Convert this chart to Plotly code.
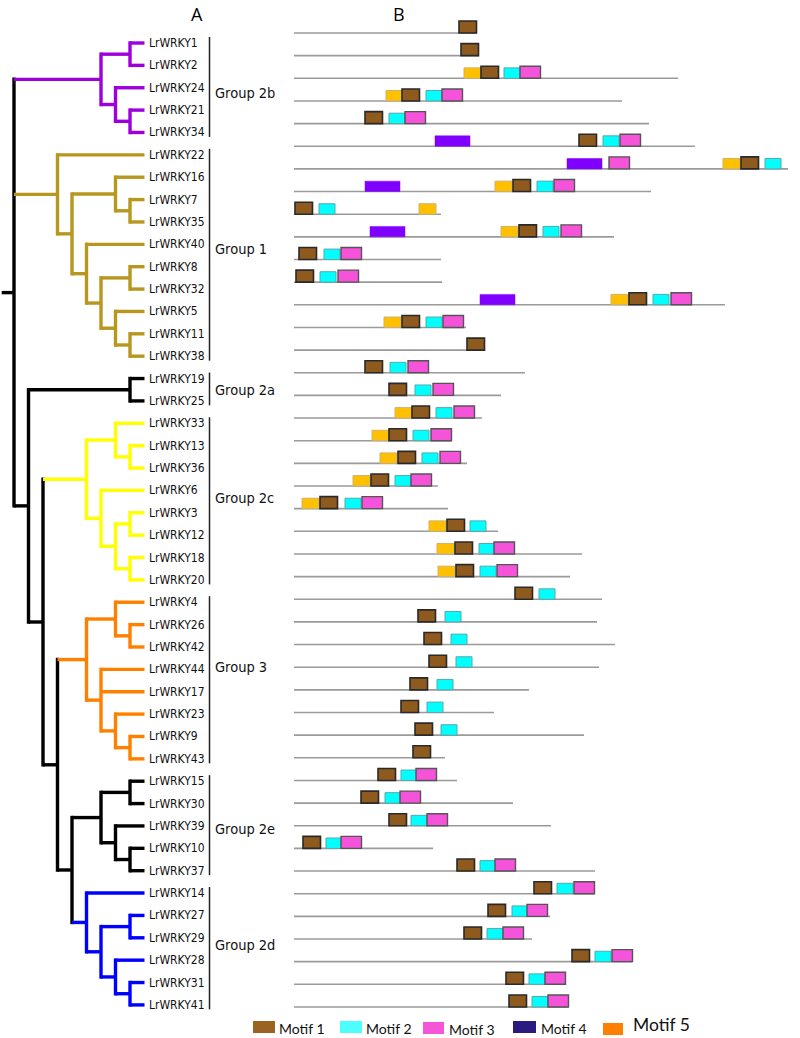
import plotly.graph_objects as go

# ------------------------------------------------------------------ data
# tree topology (leaf numbers are LrWRKY ids)
CLADE_2B = "((1,2),(24,(21,34)))"
CLADE_1 = "(22,((16,(7,35)),(40,((8,32),(5,(11,38))))))"
CLADE_2A = "(19,25)"
CLADE_2C = "((33,(13,36)),(6,((3,12),(18,20))))"
CLADE_3 = "((4,(26,42)),(44,17,(23,(9,43))))"
CLADE_2E = "((15,30),(39,(10,37)))"
CLADE_2D = "(14,((27,29),(28,(31,41))))"
TREE = f"({CLADE_2B},{CLADE_1},({CLADE_2A},({CLADE_2C},({CLADE_3},({CLADE_2E},{CLADE_2D})))))"

GROUP_NAMES = ["Group 2b", "Group 1", "Group 2a", "Group 2c", "Group 3", "Group 2e", "Group 2d"]
GROUP_CLADES = [CLADE_2B, CLADE_1, CLADE_2A, CLADE_2C, CLADE_3, CLADE_2E, CLADE_2D]

# motif panel, in tree order (protein length, aa)
PROTEIN_LENGTH = [366, 370, 768, 656, 710, 802, 988, 714, 294, 640, 294, 296, 862, 344, 382,
                  462, 414, 376, 314, 346, 288, 308, 408, 576, 552,
                  616, 606, 642, 610, 470, 400, 580, 302,
                  326, 438, 514, 278, 602,
                  600, 512, 476, 676, 542, 548]
# (motif number, start position aa)
MOTIF_SITES = [
    [(1, 330)],
    [(1, 334)],
    [(5, 340), (1, 374), (2, 420), (3, 452)],
    [(5, 184), (1, 216), (2, 264), (3, 296)],
    [(1, 142), (2, 190), (3, 222)],
    [(4, 282), (1, 570), (2, 618), (3, 652)],
    [(4, 546), (3, 630), (5, 858), (1, 894), (2, 942)],
    [(4, 142), (5, 402), (1, 438), (2, 486), (3, 520)],
    [(1, 2), (2, 50), (5, 250)],
    [(4, 152), (5, 414), (1, 450), (2, 498), (3, 534)],
    [(1, 10), (2, 60), (3, 94)],
    [(1, 4), (2, 52), (3, 88)],
    [(4, 372), (5, 634), (1, 670), (2, 718), (3, 754)],
    [(5, 180), (1, 216), (2, 264), (3, 298)],
    [(1, 346)],
    [(1, 142), (2, 192), (3, 228)],
    [(1, 190), (2, 242), (3, 278)],
    [(5, 202), (1, 236), (2, 284), (3, 320)],
    [(5, 156), (1, 190), (2, 238), (3, 274)],
    [(5, 172), (1, 208), (2, 256), (3, 292)],
    [(5, 118), (1, 154), (2, 202), (3, 234)],
    [(5, 16), (1, 52), (2, 102), (3, 136)],
    [(5, 270), (1, 306), (2, 352)],
    [(5, 286), (1, 322), (2, 370), (3, 400)],
    [(5, 288), (1, 324), (2, 372), (3, 406)],
    [(1, 442), (2, 490)],
    [(1, 248), (2, 302)],
    [(1, 260), (2, 314)],
    [(1, 270), (2, 324)],
    [(1, 232), (2, 286)],
    [(1, 214), (2, 266)],
    [(1, 242), (2, 294)],
    [(1, 238)],
    [(1, 168), (2, 214), (3, 244)],
    [(1, 134), (2, 182), (3, 212)],
    [(1, 190), (2, 234), (3, 266)],
    [(1, 18), (2, 64), (3, 94)],
    [(1, 326), (2, 372), (3, 402)],
    [(1, 480), (2, 526), (3, 560)],
    [(1, 388), (2, 436), (3, 466)],
    [(1, 340), (2, 386), (3, 418)],
    [(1, 556), (2, 602), (3, 636)],
    [(1, 424), (2, 470), (3, 502)],
    [(1, 430), (2, 476), (3, 508)],
]
MOTIF_LENGTH = {1: 35, 2: 32, 3: 41, 4: 70, 5: 34}
LEGEND_LABELS = ["Motif 1", "Motif 2", "Motif 3", "Motif 4", "Motif 5"]

# ------------------------------------------------------------------ styles
GROUP_COLORS = ["#9d00dc", "#b8971f", "#000000", "#ffff00", "#ff8000", "#000000", "#0000ff"]
MOTIF_FILL = {1: "#8f5a1e", 2: "#00ffff", 3: "#f553da", 4: "#8000ff", 5: "#ffc000"}
MOTIF_EDGE = {1: ("#2a2a2a", 1.6), 2: ("#55aaaa", 1.0), 3: ("#555555", 1.4),
              4: ("#8000ff", 0.5), 5: ("#d0b070", 1.0)}
MOTIF_H = {1: 0.53, 2: 0.46, 3: 0.53, 4: 0.46, 5: 0.46}
LEGEND_FILL = ["#9a6322", "#4dffff", "#f555d8", "#2b1a80", "#ff8000"]
NARROW = "Liberation Sans Narrow, Arial Narrow, DejaVu Sans Condensed, sans-serif"
LEG_FONT = "Lato, Open Sans, sans-serif"

W, H = 800, 1038
# pixel geometry of the axes
TX0, TXS = 14.0, 14.5      # tree depth -> px
TY0, TYS = 43.0, 22.37     # leaf index -> px
MX0, MXS = 294.0, 0.5      # aa -> px
MY0, MYS = 33.0, 22.65     # motif row -> px


# ------------------------------------------------------------------ tree parsing/layout
def parse(s):
    pos = 0

    def node():
        nonlocal pos
        if s[pos] == "(":
            pos += 1
            kids = [node()]
            while s[pos] == ",":
                pos += 1
                kids.append(node())
            pos += 1
            return {"children": kids}
        j = pos
        while s[pos] not in ",()":
            pos += 1
        return {"name": "LrWRKY" + s[j:pos]}

    return node()


def leaf_names(s):
    out, cur = [], ""
    for ch in s:
        if ch.isdigit():
            cur += ch
        else:
            if cur:
                out.append("LrWRKY" + cur)
            cur = ""
    return out


root = parse(TREE)
order = []


def layout(n):
    if "name" in n:
        n["y"] = len(order)
        order.append(n["name"])
        n["h"] = 0
        n["leaves"] = [n["name"]]
        return
    for c in n["children"]:
        layout(c)
    n["y"] = (n["children"][0]["y"] + n["children"][-1]["y"]) / 2
    n["h"] = 1 + max(c["h"] for c in n["children"])
    n["leaves"] = [l for c in n["children"] for l in c["leaves"]]


layout(root)
ROOT_H = root["h"]
group_of = {}
for gi, cl in enumerate(GROUP_CLADES):
    for nm in leaf_names(cl):
        group_of[nm] = gi


def color_of(n):
    gs = {group_of[l] for l in n["leaves"]}
    return GROUP_COLORS[gs.pop()] if len(gs) == 1 else "#000000"


segs = {}
half = 1.75 / TYS


def add(col, xs, ys):
    d = segs.setdefault(col, ([], []))
    d[0].extend(xs + [None])
    d[1].extend(ys + [None])


def walk(n, parent_x=None):
    n["x"] = ROOT_H - n["h"]
    col = color_of(n)
    if parent_x is not None:
        add(col, [parent_x, n["x"]], [n["y"], n["y"]])
    else:
        add("#000000", [n["x"] - 0.85, n["x"]], [n["y"], n["y"]])
    if "children" in n:
        add(col, [n["x"], n["x"]], [n["children"][0]["y"] - half, n["children"][-1]["y"] + half])
        for c in n["children"]:
            walk(c, n["x"])


walk(root)

fig = go.Figure()
for col, (xs, ys) in segs.items():
    fig.add_trace(go.Scatter(x=xs, y=ys, mode="lines", line=dict(color=col, width=3.4),
                             hoverinfo="skip", showlegend=False, xaxis="x", yaxis="y"))

annotations = []
shapes = []
# leaf labels
for i, nm in enumerate(order):
    annotations.append(dict(x=ROOT_H + 0.2, y=i, xref="x", yref="y", text=nm, showarrow=False,
                            xanchor="left", yanchor="middle",
                            font=dict(family=NARROW, size=12, color="#111111")))

# group brackets + labels
GROUP_LABEL_ROW = [2.235, 9.21, 15.51, 20.34, 27.9, 35.14, 40.32]
br_x = (209.5 - TX0) / TXS
lab_x = (213 - TX0) / TXS
bx, by = [], []
for gi, cl in enumerate(GROUP_CLADES):
    idx = [order.index(nm) for nm in leaf_names(cl)]
    bx += [br_x, br_x, None]
    by += [min(idx) - 0.27, max(idx) + 0.2, None]
    annotations.append(dict(x=lab_x, y=GROUP_LABEL_ROW[gi], xref="x", yref="y", text=GROUP_NAMES[gi],
                            showarrow=False, xanchor="left", yanchor="middle",
                            font=dict(family=NARROW, size=14.5, color="#111111")))
fig.add_trace(go.Scatter(x=bx, y=by, mode="lines", line=dict(color="#222222", width=1.5),
                         hoverinfo="skip", showlegend=False, xaxis="x", yaxis="y"))

# protein lines
lx, ly = [], []
for r, L in enumerate(PROTEIN_LENGTH):
    lx += [0, L, None]
    ly += [r, r, None]
fig.add_trace(go.Scatter(x=lx, y=ly, mode="lines", line=dict(color="#9a9a9a", width=1.6),
                         hoverinfo="skip", showlegend=False, xaxis="x2", yaxis="y2"))

# motif boxes
for r, sites in enumerate(MOTIF_SITES):
    for m, st in sites:
        ec, ew = MOTIF_EDGE[m]
        shapes.append(dict(type="rect", xref="x2", yref="y2", x0=st, x1=st + MOTIF_LENGTH[m],
                           y0=r - MOTIF_H[m], y1=r, fillcolor=MOTIF_FILL[m],
                           line=dict(color=ec, width=ew), layer="above"))

# headers
annotations.append(dict(x=197 / W, y=1 - 14 / H, xref="paper", yref="paper", text="A", showarrow=False,
                        xanchor="center", yanchor="middle",
                        font=dict(family="Open Sans, sans-serif", size=18, color="#000")))
annotations.append(dict(x=399 / W, y=1 - 14 / H, xref="paper", yref="paper", text="B", showarrow=False,
                        xanchor="center", yanchor="middle",
                        font=dict(family="Open Sans, sans-serif", size=18, color="#000")))

# legend
LEG_BOX = [(253, 275, 1021, 1033), (340, 362, 1021, 1033), (423, 444, 1022, 1034),
           (513, 536, 1021, 1033), (603, 623, 1023, 1035)]
LEG_TEXT = [(277, 1028, 14), (364, 1028, 14), (447, 1029, 14), (539, 1028, 14), (631, 1024, 17.5)]
for k in range(5):
    x0, x1, y0, y1 = LEG_BOX[k]
    shapes.append(dict(type="rect", xref="paper", yref="paper", x0=x0 / W, x1=x1 / W,
                       y0=1 - y1 / H, y1=1 - y0 / H, fillcolor=LEGEND_FILL[k], line=dict(width=0)))
    tx, ty, fs = LEG_TEXT[k]
    annotations.append(dict(x=tx / W, y=1 - ty / H, xref="paper", yref="paper", text=LEGEND_LABELS[k],
                            showarrow=False, xanchor="left", yanchor="middle",
                            font=dict(family=LEG_FONT, size=fs, color="#111")))

ax_common = dict(visible=False, showgrid=False, zeroline=False, fixedrange=True)
fig.update_layout(
    width=W, height=H, autosize=False,
    margin=dict(l=0, r=0, t=0, b=0, pad=0),
    paper_bgcolor="white", plot_bgcolor="white",
    showlegend=False,
    xaxis=dict(range=[-TX0 / TXS, (W - TX0) / TXS], domain=[0, 1], **ax_common),
    yaxis=dict(range=[(H - TY0) / TYS, -TY0 / TYS], domain=[0, 1], **ax_common),
    xaxis2=dict(range=[-MX0 / MXS, (W - MX0) / MXS], domain=[0, 1], overlaying="x", **ax_common),
    yaxis2=dict(range=[(H - MY0) / MYS, -MY0 / MYS], domain=[0, 1], overlaying="y", **ax_common),
    annotations=annotations,
    shapes=shapes,
)

fig.write_html("out.html", config={"displayModeBar": False},
               post_script="document.body.style.margin='0';document.body.style.overflow='hidden';")
